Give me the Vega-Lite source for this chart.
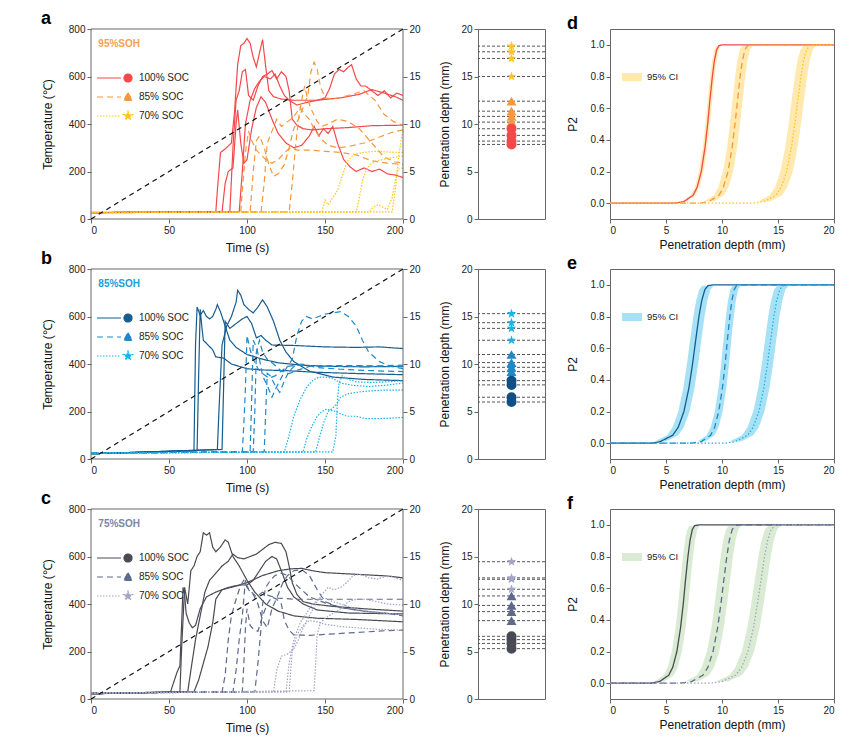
{
  "$schema": "https://vega.github.io/schema/vega-lite/v6.json",
  "padding": {"left": 41, "top": 10, "right": 5, "bottom": 5},
  "background": "white",
  "config": {
    "font": "Liberation Sans",
    "view": {"stroke": "#666", "strokeWidth": 1},
    "axis": {"grid": false, "domain": false, "labelFontSize": 10, "titleFontSize": 12, "titleFontWeight": "normal", "labelColor": "#222", "titleColor": "#111", "tickColor": "#666", "tickSize": 4, "labelPadding": 2, "labelOverlap": false},
    "legend": {"labelFontSize": 10, "labelColor": "#222"}
  },
  "datasets": {
    "temp": [
      {"g":"a","id":"a1","soc":"100% SOC","t":0,"v":28},{"g":"a","id":"a1","soc":"100% SOC","t":80,"v":30},{"g":"a","id":"a1","soc":"100% SOC","t":81,"v":120},{"g":"a","id":"a1","soc":"100% SOC","t":83,"v":280},{"g":"a","id":"a1","soc":"100% SOC","t":86,"v":295},{"g":"a","id":"a1","soc":"100% SOC","t":90,"v":320},{"g":"a","id":"a1","soc":"100% SOC","t":92,"v":450},{"g":"a","id":"a1","soc":"100% SOC","t":94,"v":650},{"g":"a","id":"a1","soc":"100% SOC","t":96,"v":730},{"g":"a","id":"a1","soc":"100% SOC","t":98,"v":740},{"g":"a","id":"a1","soc":"100% SOC","t":100,"v":760},{"g":"a","id":"a1","soc":"100% SOC","t":102,"v":740},{"g":"a","id":"a1","soc":"100% SOC","t":104,"v":680},{"g":"a","id":"a1","soc":"100% SOC","t":106,"v":640},{"g":"a","id":"a1","soc":"100% SOC","t":108,"v":700},{"g":"a","id":"a1","soc":"100% SOC","t":110,"v":755},{"g":"a","id":"a1","soc":"100% SOC","t":112,"v":640},{"g":"a","id":"a1","soc":"100% SOC","t":114,"v":540},{"g":"a","id":"a1","soc":"100% SOC","t":117,"v":515},{"g":"a","id":"a1","soc":"100% SOC","t":122,"v":505},{"g":"a","id":"a1","soc":"100% SOC","t":130,"v":500},{"g":"a","id":"a1","soc":"100% SOC","t":145,"v":500},{"g":"a","id":"a1","soc":"100% SOC","t":160,"v":510},{"g":"a","id":"a1","soc":"100% SOC","t":172,"v":525},{"g":"a","id":"a1","soc":"100% SOC","t":180,"v":545},{"g":"a","id":"a1","soc":"100% SOC","t":188,"v":530},{"g":"a","id":"a1","soc":"100% SOC","t":195,"v":515},{"g":"a","id":"a1","soc":"100% SOC","t":200,"v":500},
      {"g":"a","id":"a2","soc":"100% SOC","t":0,"v":27},{"g":"a","id":"a2","soc":"100% SOC","t":84,"v":30},{"g":"a","id":"a2","soc":"100% SOC","t":86,"v":150},{"g":"a","id":"a2","soc":"100% SOC","t":88,"v":200},{"g":"a","id":"a2","soc":"100% SOC","t":91,"v":215},{"g":"a","id":"a2","soc":"100% SOC","t":93,"v":400},{"g":"a","id":"a2","soc":"100% SOC","t":94,"v":460},{"g":"a","id":"a2","soc":"100% SOC","t":96,"v":320},{"g":"a","id":"a2","soc":"100% SOC","t":98,"v":235},{"g":"a","id":"a2","soc":"100% SOC","t":100,"v":250},{"g":"a","id":"a2","soc":"100% SOC","t":103,"v":380},{"g":"a","id":"a2","soc":"100% SOC","t":106,"v":470},{"g":"a","id":"a2","soc":"100% SOC","t":109,"v":515},{"g":"a","id":"a2","soc":"100% SOC","t":112,"v":490},{"g":"a","id":"a2","soc":"100% SOC","t":116,"v":420},{"g":"a","id":"a2","soc":"100% SOC","t":120,"v":360},{"g":"a","id":"a2","soc":"100% SOC","t":125,"v":320},{"g":"a","id":"a2","soc":"100% SOC","t":130,"v":300},{"g":"a","id":"a2","soc":"100% SOC","t":135,"v":310},{"g":"a","id":"a2","soc":"100% SOC","t":140,"v":350},{"g":"a","id":"a2","soc":"100% SOC","t":143,"v":390},{"g":"a","id":"a2","soc":"100% SOC","t":146,"v":350},{"g":"a","id":"a2","soc":"100% SOC","t":149,"v":380},{"g":"a","id":"a2","soc":"100% SOC","t":152,"v":360},{"g":"a","id":"a2","soc":"100% SOC","t":155,"v":390},{"g":"a","id":"a2","soc":"100% SOC","t":158,"v":320},{"g":"a","id":"a2","soc":"100% SOC","t":162,"v":250},{"g":"a","id":"a2","soc":"100% SOC","t":166,"v":220},{"g":"a","id":"a2","soc":"100% SOC","t":170,"v":200},{"g":"a","id":"a2","soc":"100% SOC","t":175,"v":215},{"g":"a","id":"a2","soc":"100% SOC","t":180,"v":200},{"g":"a","id":"a2","soc":"100% SOC","t":185,"v":210},{"g":"a","id":"a2","soc":"100% SOC","t":190,"v":190},{"g":"a","id":"a2","soc":"100% SOC","t":195,"v":185},{"g":"a","id":"a2","soc":"100% SOC","t":200,"v":175},
      {"g":"a","id":"a3","soc":"100% SOC","t":0,"v":26},{"g":"a","id":"a3","soc":"100% SOC","t":89,"v":30},{"g":"a","id":"a3","soc":"100% SOC","t":91,"v":300},{"g":"a","id":"a3","soc":"100% SOC","t":93,"v":500},{"g":"a","id":"a3","soc":"100% SOC","t":95,"v":540},{"g":"a","id":"a3","soc":"100% SOC","t":97,"v":620},{"g":"a","id":"a3","soc":"100% SOC","t":99,"v":630},{"g":"a","id":"a3","soc":"100% SOC","t":101,"v":520},{"g":"a","id":"a3","soc":"100% SOC","t":104,"v":500},{"g":"a","id":"a3","soc":"100% SOC","t":107,"v":560},{"g":"a","id":"a3","soc":"100% SOC","t":110,"v":600},{"g":"a","id":"a3","soc":"100% SOC","t":113,"v":610},{"g":"a","id":"a3","soc":"100% SOC","t":116,"v":625},{"g":"a","id":"a3","soc":"100% SOC","t":119,"v":590},{"g":"a","id":"a3","soc":"100% SOC","t":122,"v":620},{"g":"a","id":"a3","soc":"100% SOC","t":125,"v":600},{"g":"a","id":"a3","soc":"100% SOC","t":127,"v":540},{"g":"a","id":"a3","soc":"100% SOC","t":129,"v":420},{"g":"a","id":"a3","soc":"100% SOC","t":132,"v":395},{"g":"a","id":"a3","soc":"100% SOC","t":136,"v":380},{"g":"a","id":"a3","soc":"100% SOC","t":142,"v":375},{"g":"a","id":"a3","soc":"100% SOC","t":150,"v":380},{"g":"a","id":"a3","soc":"100% SOC","t":165,"v":385},{"g":"a","id":"a3","soc":"100% SOC","t":180,"v":393},{"g":"a","id":"a3","soc":"100% SOC","t":200,"v":395},
      {"g":"a","id":"a4","soc":"100% SOC","t":0,"v":27},{"g":"a","id":"a4","soc":"100% SOC","t":95,"v":30},{"g":"a","id":"a4","soc":"100% SOC","t":97,"v":200},{"g":"a","id":"a4","soc":"100% SOC","t":99,"v":400},{"g":"a","id":"a4","soc":"100% SOC","t":102,"v":500},{"g":"a","id":"a4","soc":"100% SOC","t":105,"v":550},{"g":"a","id":"a4","soc":"100% SOC","t":108,"v":580},{"g":"a","id":"a4","soc":"100% SOC","t":111,"v":600},{"g":"a","id":"a4","soc":"100% SOC","t":115,"v":590},{"g":"a","id":"a4","soc":"100% SOC","t":118,"v":610},{"g":"a","id":"a4","soc":"100% SOC","t":121,"v":560},{"g":"a","id":"a4","soc":"100% SOC","t":124,"v":520},{"g":"a","id":"a4","soc":"100% SOC","t":127,"v":500},{"g":"a","id":"a4","soc":"100% SOC","t":132,"v":480},{"g":"a","id":"a4","soc":"100% SOC","t":138,"v":490},{"g":"a","id":"a4","soc":"100% SOC","t":145,"v":500},{"g":"a","id":"a4","soc":"100% SOC","t":150,"v":510},{"g":"a","id":"a4","soc":"100% SOC","t":153,"v":550},{"g":"a","id":"a4","soc":"100% SOC","t":156,"v":610},{"g":"a","id":"a4","soc":"100% SOC","t":159,"v":630},{"g":"a","id":"a4","soc":"100% SOC","t":162,"v":620},{"g":"a","id":"a4","soc":"100% SOC","t":165,"v":640},{"g":"a","id":"a4","soc":"100% SOC","t":167,"v":650},{"g":"a","id":"a4","soc":"100% SOC","t":170,"v":590},{"g":"a","id":"a4","soc":"100% SOC","t":173,"v":560},{"g":"a","id":"a4","soc":"100% SOC","t":176,"v":560},{"g":"a","id":"a4","soc":"100% SOC","t":180,"v":540},{"g":"a","id":"a4","soc":"100% SOC","t":184,"v":520},{"g":"a","id":"a4","soc":"100% SOC","t":188,"v":540},{"g":"a","id":"a4","soc":"100% SOC","t":192,"v":510},{"g":"a","id":"a4","soc":"100% SOC","t":196,"v":530},{"g":"a","id":"a4","soc":"100% SOC","t":200,"v":520},
      {"g":"a","id":"a5","soc":"85% SOC","t":0,"v":27},{"g":"a","id":"a5","soc":"85% SOC","t":96,"v":30},{"g":"a","id":"a5","soc":"85% SOC","t":97,"v":120},{"g":"a","id":"a5","soc":"85% SOC","t":99,"v":280},{"g":"a","id":"a5","soc":"85% SOC","t":101,"v":370},{"g":"a","id":"a5","soc":"85% SOC","t":103,"v":330},{"g":"a","id":"a5","soc":"85% SOC","t":106,"v":290},{"g":"a","id":"a5","soc":"85% SOC","t":109,"v":270},{"g":"a","id":"a5","soc":"85% SOC","t":112,"v":250},{"g":"a","id":"a5","soc":"85% SOC","t":116,"v":235},{"g":"a","id":"a5","soc":"85% SOC","t":120,"v":250},{"g":"a","id":"a5","soc":"85% SOC","t":124,"v":280},{"g":"a","id":"a5","soc":"85% SOC","t":128,"v":300},{"g":"a","id":"a5","soc":"85% SOC","t":132,"v":290},{"g":"a","id":"a5","soc":"85% SOC","t":140,"v":290},{"g":"a","id":"a5","soc":"85% SOC","t":150,"v":285},{"g":"a","id":"a5","soc":"85% SOC","t":160,"v":280},{"g":"a","id":"a5","soc":"85% SOC","t":170,"v":270},{"g":"a","id":"a5","soc":"85% SOC","t":180,"v":245},{"g":"a","id":"a5","soc":"85% SOC","t":190,"v":235},{"g":"a","id":"a5","soc":"85% SOC","t":200,"v":230},
      {"g":"a","id":"a6","soc":"85% SOC","t":0,"v":27},{"g":"a","id":"a6","soc":"85% SOC","t":102,"v":30},{"g":"a","id":"a6","soc":"85% SOC","t":104,"v":200},{"g":"a","id":"a6","soc":"85% SOC","t":106,"v":330},{"g":"a","id":"a6","soc":"85% SOC","t":108,"v":350},{"g":"a","id":"a6","soc":"85% SOC","t":111,"v":300},{"g":"a","id":"a6","soc":"85% SOC","t":114,"v":230},{"g":"a","id":"a6","soc":"85% SOC","t":117,"v":180},{"g":"a","id":"a6","soc":"85% SOC","t":120,"v":190},{"g":"a","id":"a6","soc":"85% SOC","t":124,"v":230},{"g":"a","id":"a6","soc":"85% SOC","t":127,"v":300},{"g":"a","id":"a6","soc":"85% SOC","t":130,"v":380},{"g":"a","id":"a6","soc":"85% SOC","t":133,"v":420},{"g":"a","id":"a6","soc":"85% SOC","t":136,"v":470},{"g":"a","id":"a6","soc":"85% SOC","t":139,"v":520},{"g":"a","id":"a6","soc":"85% SOC","t":141,"v":620},{"g":"a","id":"a6","soc":"85% SOC","t":143,"v":660},{"g":"a","id":"a6","soc":"85% SOC","t":145,"v":630},{"g":"a","id":"a6","soc":"85% SOC","t":147,"v":560},{"g":"a","id":"a6","soc":"85% SOC","t":150,"v":510},{"g":"a","id":"a6","soc":"85% SOC","t":155,"v":505},{"g":"a","id":"a6","soc":"85% SOC","t":165,"v":520},{"g":"a","id":"a6","soc":"85% SOC","t":175,"v":540},{"g":"a","id":"a6","soc":"85% SOC","t":182,"v":500},{"g":"a","id":"a6","soc":"85% SOC","t":188,"v":440},{"g":"a","id":"a6","soc":"85% SOC","t":194,"v":410},{"g":"a","id":"a6","soc":"85% SOC","t":200,"v":395},
      {"g":"a","id":"a7","soc":"85% SOC","t":0,"v":27},{"g":"a","id":"a7","soc":"85% SOC","t":109,"v":30},{"g":"a","id":"a7","soc":"85% SOC","t":111,"v":150},{"g":"a","id":"a7","soc":"85% SOC","t":113,"v":320},{"g":"a","id":"a7","soc":"85% SOC","t":116,"v":370},{"g":"a","id":"a7","soc":"85% SOC","t":119,"v":420},{"g":"a","id":"a7","soc":"85% SOC","t":122,"v":390},{"g":"a","id":"a7","soc":"85% SOC","t":126,"v":410},{"g":"a","id":"a7","soc":"85% SOC","t":130,"v":430},{"g":"a","id":"a7","soc":"85% SOC","t":134,"v":470},{"g":"a","id":"a7","soc":"85% SOC","t":137,"v":440},{"g":"a","id":"a7","soc":"85% SOC","t":140,"v":420},{"g":"a","id":"a7","soc":"85% SOC","t":143,"v":380},{"g":"a","id":"a7","soc":"85% SOC","t":147,"v":340},{"g":"a","id":"a7","soc":"85% SOC","t":152,"v":310},{"g":"a","id":"a7","soc":"85% SOC","t":158,"v":300},{"g":"a","id":"a7","soc":"85% SOC","t":165,"v":305},{"g":"a","id":"a7","soc":"85% SOC","t":175,"v":320},{"g":"a","id":"a7","soc":"85% SOC","t":185,"v":345},{"g":"a","id":"a7","soc":"85% SOC","t":193,"v":365},{"g":"a","id":"a7","soc":"85% SOC","t":200,"v":375},
      {"g":"a","id":"a8","soc":"85% SOC","t":0,"v":27},{"g":"a","id":"a8","soc":"85% SOC","t":127,"v":30},{"g":"a","id":"a8","soc":"85% SOC","t":129,"v":150},{"g":"a","id":"a8","soc":"85% SOC","t":131,"v":300},{"g":"a","id":"a8","soc":"85% SOC","t":133,"v":420},{"g":"a","id":"a8","soc":"85% SOC","t":135,"v":500},{"g":"a","id":"a8","soc":"85% SOC","t":137,"v":560},{"g":"a","id":"a8","soc":"85% SOC","t":139,"v":500},{"g":"a","id":"a8","soc":"85% SOC","t":142,"v":450},{"g":"a","id":"a8","soc":"85% SOC","t":145,"v":410},{"g":"a","id":"a8","soc":"85% SOC","t":148,"v":390},{"g":"a","id":"a8","soc":"85% SOC","t":152,"v":400},{"g":"a","id":"a8","soc":"85% SOC","t":158,"v":420},{"g":"a","id":"a8","soc":"85% SOC","t":165,"v":410},{"g":"a","id":"a8","soc":"85% SOC","t":172,"v":380},{"g":"a","id":"a8","soc":"85% SOC","t":180,"v":320},{"g":"a","id":"a8","soc":"85% SOC","t":188,"v":260},{"g":"a","id":"a8","soc":"85% SOC","t":195,"v":240},{"g":"a","id":"a8","soc":"85% SOC","t":200,"v":235},
      {"g":"a","id":"a9","soc":"70% SOC","t":0,"v":27},{"g":"a","id":"a9","soc":"70% SOC","t":148,"v":30},{"g":"a","id":"a9","soc":"70% SOC","t":150,"v":80},{"g":"a","id":"a9","soc":"70% SOC","t":152,"v":60},{"g":"a","id":"a9","soc":"70% SOC","t":155,"v":90},{"g":"a","id":"a9","soc":"70% SOC","t":158,"v":120},{"g":"a","id":"a9","soc":"70% SOC","t":161,"v":180},{"g":"a","id":"a9","soc":"70% SOC","t":164,"v":240},{"g":"a","id":"a9","soc":"70% SOC","t":168,"v":270},{"g":"a","id":"a9","soc":"70% SOC","t":174,"v":280},{"g":"a","id":"a9","soc":"70% SOC","t":182,"v":285},{"g":"a","id":"a9","soc":"70% SOC","t":190,"v":282},{"g":"a","id":"a9","soc":"70% SOC","t":200,"v":280},
      {"g":"a","id":"a10","soc":"70% SOC","t":0,"v":27},{"g":"a","id":"a10","soc":"70% SOC","t":170,"v":30},{"g":"a","id":"a10","soc":"70% SOC","t":172,"v":90},{"g":"a","id":"a10","soc":"70% SOC","t":174,"v":160},{"g":"a","id":"a10","soc":"70% SOC","t":176,"v":200},{"g":"a","id":"a10","soc":"70% SOC","t":179,"v":230},{"g":"a","id":"a10","soc":"70% SOC","t":183,"v":245},{"g":"a","id":"a10","soc":"70% SOC","t":190,"v":255},{"g":"a","id":"a10","soc":"70% SOC","t":200,"v":265},
      {"g":"a","id":"a11","soc":"70% SOC","t":0,"v":27},{"g":"a","id":"a11","soc":"70% SOC","t":178,"v":30},{"g":"a","id":"a11","soc":"70% SOC","t":181,"v":50},{"g":"a","id":"a11","soc":"70% SOC","t":184,"v":60},{"g":"a","id":"a11","soc":"70% SOC","t":187,"v":50},{"g":"a","id":"a11","soc":"70% SOC","t":190,"v":40},{"g":"a","id":"a11","soc":"70% SOC","t":193,"v":90},{"g":"a","id":"a11","soc":"70% SOC","t":195,"v":160},{"g":"a","id":"a11","soc":"70% SOC","t":197,"v":210},{"g":"a","id":"a11","soc":"70% SOC","t":200,"v":215},
      {"g":"a","id":"a12","soc":"70% SOC","t":0,"v":27},{"g":"a","id":"a12","soc":"70% SOC","t":193,"v":30},{"g":"a","id":"a12","soc":"70% SOC","t":195,"v":120},{"g":"a","id":"a12","soc":"70% SOC","t":197,"v":250},{"g":"a","id":"a12","soc":"70% SOC","t":199,"v":340},{"g":"a","id":"a12","soc":"70% SOC","t":200,"v":370},
      {"g":"b","id":"b1","soc":"100% SOC","t":0,"v":22},{"g":"b","id":"b1","soc":"100% SOC","t":66,"v":35},{"g":"b","id":"b1","soc":"100% SOC","t":67,"v":480},{"g":"b","id":"b1","soc":"100% SOC","t":68,"v":640},{"g":"b","id":"b1","soc":"100% SOC","t":70,"v":605},{"g":"b","id":"b1","soc":"100% SOC","t":72,"v":625},{"g":"b","id":"b1","soc":"100% SOC","t":74,"v":600},{"g":"b","id":"b1","soc":"100% SOC","t":76,"v":590},{"g":"b","id":"b1","soc":"100% SOC","t":78,"v":600},{"g":"b","id":"b1","soc":"100% SOC","t":80,"v":630},{"g":"b","id":"b1","soc":"100% SOC","t":81,"v":650},{"g":"b","id":"b1","soc":"100% SOC","t":83,"v":620},{"g":"b","id":"b1","soc":"100% SOC","t":86,"v":560},{"g":"b","id":"b1","soc":"100% SOC","t":89,"v":500},{"g":"b","id":"b1","soc":"100% SOC","t":93,"v":470},{"g":"b","id":"b1","soc":"100% SOC","t":100,"v":440},{"g":"b","id":"b1","soc":"100% SOC","t":110,"v":420},{"g":"b","id":"b1","soc":"100% SOC","t":120,"v":405},{"g":"b","id":"b1","soc":"100% SOC","t":135,"v":395},{"g":"b","id":"b1","soc":"100% SOC","t":155,"v":390},{"g":"b","id":"b1","soc":"100% SOC","t":175,"v":388},{"g":"b","id":"b1","soc":"100% SOC","t":200,"v":390},
      {"g":"b","id":"b2","soc":"100% SOC","t":0,"v":22},{"g":"b","id":"b2","soc":"100% SOC","t":68,"v":35},{"g":"b","id":"b2","soc":"100% SOC","t":69,"v":350},{"g":"b","id":"b2","soc":"100% SOC","t":70,"v":630},{"g":"b","id":"b2","soc":"100% SOC","t":71,"v":560},{"g":"b","id":"b2","soc":"100% SOC","t":72,"v":500},{"g":"b","id":"b2","soc":"100% SOC","t":75,"v":480},{"g":"b","id":"b2","soc":"100% SOC","t":78,"v":460},{"g":"b","id":"b2","soc":"100% SOC","t":80,"v":430},{"g":"b","id":"b2","soc":"100% SOC","t":85,"v":425},{"g":"b","id":"b2","soc":"100% SOC","t":90,"v":400},{"g":"b","id":"b2","soc":"100% SOC","t":100,"v":380},{"g":"b","id":"b2","soc":"100% SOC","t":110,"v":375},{"g":"b","id":"b2","soc":"100% SOC","t":125,"v":372},{"g":"b","id":"b2","soc":"100% SOC","t":145,"v":365},{"g":"b","id":"b2","soc":"100% SOC","t":170,"v":360},{"g":"b","id":"b2","soc":"100% SOC","t":200,"v":355},
      {"g":"b","id":"b3","soc":"100% SOC","t":0,"v":22},{"g":"b","id":"b3","soc":"100% SOC","t":84,"v":40},{"g":"b","id":"b3","soc":"100% SOC","t":85,"v":300},{"g":"b","id":"b3","soc":"100% SOC","t":86,"v":580},{"g":"b","id":"b3","soc":"100% SOC","t":89,"v":550},{"g":"b","id":"b3","soc":"100% SOC","t":93,"v":570},{"g":"b","id":"b3","soc":"100% SOC","t":97,"v":590},{"g":"b","id":"b3","soc":"100% SOC","t":100,"v":600},{"g":"b","id":"b3","soc":"100% SOC","t":103,"v":570},{"g":"b","id":"b3","soc":"100% SOC","t":106,"v":510},{"g":"b","id":"b3","soc":"100% SOC","t":109,"v":520},{"g":"b","id":"b3","soc":"100% SOC","t":112,"v":500},{"g":"b","id":"b3","soc":"100% SOC","t":116,"v":480},{"g":"b","id":"b3","soc":"100% SOC","t":130,"v":478},{"g":"b","id":"b3","soc":"100% SOC","t":150,"v":472},{"g":"b","id":"b3","soc":"100% SOC","t":170,"v":470},{"g":"b","id":"b3","soc":"100% SOC","t":185,"v":472},{"g":"b","id":"b3","soc":"100% SOC","t":200,"v":465},
      {"g":"b","id":"b4","soc":"100% SOC","t":0,"v":22},{"g":"b","id":"b4","soc":"100% SOC","t":81,"v":40},{"g":"b","id":"b4","soc":"100% SOC","t":82,"v":200},{"g":"b","id":"b4","soc":"100% SOC","t":84,"v":480},{"g":"b","id":"b4","soc":"100% SOC","t":87,"v":560},{"g":"b","id":"b4","soc":"100% SOC","t":90,"v":600},{"g":"b","id":"b4","soc":"100% SOC","t":93,"v":660},{"g":"b","id":"b4","soc":"100% SOC","t":94,"v":710},{"g":"b","id":"b4","soc":"100% SOC","t":96,"v":690},{"g":"b","id":"b4","soc":"100% SOC","t":98,"v":650},{"g":"b","id":"b4","soc":"100% SOC","t":101,"v":630},{"g":"b","id":"b4","soc":"100% SOC","t":104,"v":615},{"g":"b","id":"b4","soc":"100% SOC","t":107,"v":640},{"g":"b","id":"b4","soc":"100% SOC","t":110,"v":670},{"g":"b","id":"b4","soc":"100% SOC","t":113,"v":640},{"g":"b","id":"b4","soc":"100% SOC","t":117,"v":580},{"g":"b","id":"b4","soc":"100% SOC","t":121,"v":500},{"g":"b","id":"b4","soc":"100% SOC","t":125,"v":450},{"g":"b","id":"b4","soc":"100% SOC","t":130,"v":410},{"g":"b","id":"b4","soc":"100% SOC","t":140,"v":370},{"g":"b","id":"b4","soc":"100% SOC","t":155,"v":345},{"g":"b","id":"b4","soc":"100% SOC","t":175,"v":335},{"g":"b","id":"b4","soc":"100% SOC","t":200,"v":330},
      {"g":"b","id":"b5","soc":"85% SOC","t":0,"v":25},{"g":"b","id":"b5","soc":"85% SOC","t":97,"v":30},{"g":"b","id":"b5","soc":"85% SOC","t":98,"v":150},{"g":"b","id":"b5","soc":"85% SOC","t":99,"v":300},{"g":"b","id":"b5","soc":"85% SOC","t":100,"v":520},{"g":"b","id":"b5","soc":"85% SOC","t":102,"v":460},{"g":"b","id":"b5","soc":"85% SOC","t":104,"v":420},{"g":"b","id":"b5","soc":"85% SOC","t":107,"v":380},{"g":"b","id":"b5","soc":"85% SOC","t":110,"v":360},{"g":"b","id":"b5","soc":"85% SOC","t":114,"v":340},{"g":"b","id":"b5","soc":"85% SOC","t":118,"v":350},{"g":"b","id":"b5","soc":"85% SOC","t":122,"v":370},{"g":"b","id":"b5","soc":"85% SOC","t":126,"v":390},{"g":"b","id":"b5","soc":"85% SOC","t":132,"v":395},{"g":"b","id":"b5","soc":"85% SOC","t":145,"v":390},{"g":"b","id":"b5","soc":"85% SOC","t":165,"v":390},{"g":"b","id":"b5","soc":"85% SOC","t":185,"v":392},{"g":"b","id":"b5","soc":"85% SOC","t":200,"v":395},
      {"g":"b","id":"b6","soc":"85% SOC","t":0,"v":25},{"g":"b","id":"b6","soc":"85% SOC","t":102,"v":30},{"g":"b","id":"b6","soc":"85% SOC","t":103,"v":250},{"g":"b","id":"b6","soc":"85% SOC","t":104,"v":500},{"g":"b","id":"b6","soc":"85% SOC","t":106,"v":470},{"g":"b","id":"b6","soc":"85% SOC","t":108,"v":420},{"g":"b","id":"b6","soc":"85% SOC","t":110,"v":350},{"g":"b","id":"b6","soc":"85% SOC","t":113,"v":310},{"g":"b","id":"b6","soc":"85% SOC","t":116,"v":260},{"g":"b","id":"b6","soc":"85% SOC","t":118,"v":290},{"g":"b","id":"b6","soc":"85% SOC","t":121,"v":330},{"g":"b","id":"b6","soc":"85% SOC","t":125,"v":380},{"g":"b","id":"b6","soc":"85% SOC","t":129,"v":420},{"g":"b","id":"b6","soc":"85% SOC","t":132,"v":520},{"g":"b","id":"b6","soc":"85% SOC","t":135,"v":580},{"g":"b","id":"b6","soc":"85% SOC","t":138,"v":600},{"g":"b","id":"b6","soc":"85% SOC","t":142,"v":590},{"g":"b","id":"b6","soc":"85% SOC","t":146,"v":600},{"g":"b","id":"b6","soc":"85% SOC","t":150,"v":610},{"g":"b","id":"b6","soc":"85% SOC","t":155,"v":615},{"g":"b","id":"b6","soc":"85% SOC","t":160,"v":620},{"g":"b","id":"b6","soc":"85% SOC","t":165,"v":600},{"g":"b","id":"b6","soc":"85% SOC","t":170,"v":560},{"g":"b","id":"b6","soc":"85% SOC","t":174,"v":500},{"g":"b","id":"b6","soc":"85% SOC","t":178,"v":450},{"g":"b","id":"b6","soc":"85% SOC","t":185,"v":410},{"g":"b","id":"b6","soc":"85% SOC","t":192,"v":390},{"g":"b","id":"b6","soc":"85% SOC","t":200,"v":380},
      {"g":"b","id":"b7","soc":"85% SOC","t":0,"v":25},{"g":"b","id":"b7","soc":"85% SOC","t":104,"v":30},{"g":"b","id":"b7","soc":"85% SOC","t":105,"v":200},{"g":"b","id":"b7","soc":"85% SOC","t":106,"v":450},{"g":"b","id":"b7","soc":"85% SOC","t":108,"v":500},{"g":"b","id":"b7","soc":"85% SOC","t":110,"v":450},{"g":"b","id":"b7","soc":"85% SOC","t":113,"v":420},{"g":"b","id":"b7","soc":"85% SOC","t":117,"v":400},{"g":"b","id":"b7","soc":"85% SOC","t":122,"v":370},{"g":"b","id":"b7","soc":"85% SOC","t":127,"v":360},{"g":"b","id":"b7","soc":"85% SOC","t":133,"v":375},{"g":"b","id":"b7","soc":"85% SOC","t":140,"v":390},{"g":"b","id":"b7","soc":"85% SOC","t":155,"v":393},{"g":"b","id":"b7","soc":"85% SOC","t":175,"v":393},{"g":"b","id":"b7","soc":"85% SOC","t":200,"v":388},
      {"g":"b","id":"b8","soc":"85% SOC","t":0,"v":25},{"g":"b","id":"b8","soc":"85% SOC","t":111,"v":30},{"g":"b","id":"b8","soc":"85% SOC","t":112,"v":200},{"g":"b","id":"b8","soc":"85% SOC","t":113,"v":360},{"g":"b","id":"b8","soc":"85% SOC","t":115,"v":350},{"g":"b","id":"b8","soc":"85% SOC","t":118,"v":310},{"g":"b","id":"b8","soc":"85% SOC","t":121,"v":280},{"g":"b","id":"b8","soc":"85% SOC","t":124,"v":330},{"g":"b","id":"b8","soc":"85% SOC","t":127,"v":370},{"g":"b","id":"b8","soc":"85% SOC","t":131,"v":395},{"g":"b","id":"b8","soc":"85% SOC","t":135,"v":400},{"g":"b","id":"b8","soc":"85% SOC","t":145,"v":385},{"g":"b","id":"b8","soc":"85% SOC","t":160,"v":378},{"g":"b","id":"b8","soc":"85% SOC","t":180,"v":372},{"g":"b","id":"b8","soc":"85% SOC","t":200,"v":368},
      {"g":"b","id":"b9","soc":"70% SOC","t":0,"v":25},{"g":"b","id":"b9","soc":"70% SOC","t":124,"v":30},{"g":"b","id":"b9","soc":"70% SOC","t":127,"v":100},{"g":"b","id":"b9","soc":"70% SOC","t":130,"v":180},{"g":"b","id":"b9","soc":"70% SOC","t":134,"v":250},{"g":"b","id":"b9","soc":"70% SOC","t":138,"v":300},{"g":"b","id":"b9","soc":"70% SOC","t":142,"v":330},{"g":"b","id":"b9","soc":"70% SOC","t":146,"v":345},{"g":"b","id":"b9","soc":"70% SOC","t":150,"v":345},{"g":"b","id":"b9","soc":"70% SOC","t":155,"v":340},{"g":"b","id":"b9","soc":"70% SOC","t":160,"v":320},{"g":"b","id":"b9","soc":"70% SOC","t":168,"v":310},{"g":"b","id":"b9","soc":"70% SOC","t":178,"v":305},{"g":"b","id":"b9","soc":"70% SOC","t":188,"v":310},{"g":"b","id":"b9","soc":"70% SOC","t":200,"v":320},
      {"g":"b","id":"b10","soc":"70% SOC","t":0,"v":25},{"g":"b","id":"b10","soc":"70% SOC","t":136,"v":30},{"g":"b","id":"b10","soc":"70% SOC","t":138,"v":80},{"g":"b","id":"b10","soc":"70% SOC","t":141,"v":130},{"g":"b","id":"b10","soc":"70% SOC","t":145,"v":180},{"g":"b","id":"b10","soc":"70% SOC","t":148,"v":200},{"g":"b","id":"b10","soc":"70% SOC","t":151,"v":210},{"g":"b","id":"b10","soc":"70% SOC","t":154,"v":205},{"g":"b","id":"b10","soc":"70% SOC","t":157,"v":200},{"g":"b","id":"b10","soc":"70% SOC","t":160,"v":190},{"g":"b","id":"b10","soc":"70% SOC","t":164,"v":180},{"g":"b","id":"b10","soc":"70% SOC","t":170,"v":180},{"g":"b","id":"b10","soc":"70% SOC","t":176,"v":170},{"g":"b","id":"b10","soc":"70% SOC","t":185,"v":170},{"g":"b","id":"b10","soc":"70% SOC","t":200,"v":175},
      {"g":"b","id":"b11","soc":"70% SOC","t":0,"v":25},{"g":"b","id":"b11","soc":"70% SOC","t":144,"v":30},{"g":"b","id":"b11","soc":"70% SOC","t":146,"v":80},{"g":"b","id":"b11","soc":"70% SOC","t":149,"v":150},{"g":"b","id":"b11","soc":"70% SOC","t":152,"v":200},{"g":"b","id":"b11","soc":"70% SOC","t":155,"v":215},{"g":"b","id":"b11","soc":"70% SOC","t":158,"v":235},{"g":"b","id":"b11","soc":"70% SOC","t":160,"v":260},{"g":"b","id":"b11","soc":"70% SOC","t":165,"v":275},{"g":"b","id":"b11","soc":"70% SOC","t":175,"v":285},{"g":"b","id":"b11","soc":"70% SOC","t":188,"v":290},{"g":"b","id":"b11","soc":"70% SOC","t":200,"v":290},
      {"g":"b","id":"b12","soc":"70% SOC","t":0,"v":25},{"g":"b","id":"b12","soc":"70% SOC","t":155,"v":30},{"g":"b","id":"b12","soc":"70% SOC","t":157,"v":100},{"g":"b","id":"b12","soc":"70% SOC","t":158,"v":250},{"g":"b","id":"b12","soc":"70% SOC","t":159,"v":320},{"g":"b","id":"b12","soc":"70% SOC","t":161,"v":350},{"g":"b","id":"b12","soc":"70% SOC","t":165,"v":335},{"g":"b","id":"b12","soc":"70% SOC","t":170,"v":325},{"g":"b","id":"b12","soc":"70% SOC","t":180,"v":322},{"g":"b","id":"b12","soc":"70% SOC","t":190,"v":325},{"g":"b","id":"b12","soc":"70% SOC","t":200,"v":330},
      {"g":"c","id":"c1","soc":"100% SOC","t":0,"v":22},{"g":"c","id":"c1","soc":"100% SOC","t":51,"v":30},{"g":"c","id":"c1","soc":"100% SOC","t":53,"v":70},{"g":"c","id":"c1","soc":"100% SOC","t":55,"v":110},{"g":"c","id":"c1","soc":"100% SOC","t":57,"v":140},{"g":"c","id":"c1","soc":"100% SOC","t":58,"v":300},{"g":"c","id":"c1","soc":"100% SOC","t":59,"v":470},{"g":"c","id":"c1","soc":"100% SOC","t":60,"v":440},{"g":"c","id":"c1","soc":"100% SOC","t":61,"v":360},{"g":"c","id":"c1","soc":"100% SOC","t":63,"v":320},{"g":"c","id":"c1","soc":"100% SOC","t":65,"v":300},{"g":"c","id":"c1","soc":"100% SOC","t":67,"v":310},{"g":"c","id":"c1","soc":"100% SOC","t":70,"v":380},{"g":"c","id":"c1","soc":"100% SOC","t":74,"v":430},{"g":"c","id":"c1","soc":"100% SOC","t":80,"v":450},{"g":"c","id":"c1","soc":"100% SOC","t":88,"v":470},{"g":"c","id":"c1","soc":"100% SOC","t":95,"v":480},{"g":"c","id":"c1","soc":"100% SOC","t":100,"v":490},{"g":"c","id":"c1","soc":"100% SOC","t":110,"v":520},{"g":"c","id":"c1","soc":"100% SOC","t":120,"v":540},{"g":"c","id":"c1","soc":"100% SOC","t":128,"v":548},{"g":"c","id":"c1","soc":"100% SOC","t":135,"v":550},{"g":"c","id":"c1","soc":"100% SOC","t":142,"v":540},{"g":"c","id":"c1","soc":"100% SOC","t":150,"v":532},{"g":"c","id":"c1","soc":"100% SOC","t":170,"v":525},{"g":"c","id":"c1","soc":"100% SOC","t":190,"v":518},{"g":"c","id":"c1","soc":"100% SOC","t":200,"v":510},
      {"g":"c","id":"c2","soc":"100% SOC","t":0,"v":22},{"g":"c","id":"c2","soc":"100% SOC","t":57,"v":30},{"g":"c","id":"c2","soc":"100% SOC","t":58,"v":200},{"g":"c","id":"c2","soc":"100% SOC","t":60,"v":470},{"g":"c","id":"c2","soc":"100% SOC","t":62,"v":400},{"g":"c","id":"c2","soc":"100% SOC","t":64,"v":540},{"g":"c","id":"c2","soc":"100% SOC","t":66,"v":560},{"g":"c","id":"c2","soc":"100% SOC","t":68,"v":600},{"g":"c","id":"c2","soc":"100% SOC","t":70,"v":620},{"g":"c","id":"c2","soc":"100% SOC","t":72,"v":700},{"g":"c","id":"c2","soc":"100% SOC","t":74,"v":690},{"g":"c","id":"c2","soc":"100% SOC","t":76,"v":700},{"g":"c","id":"c2","soc":"100% SOC","t":78,"v":640},{"g":"c","id":"c2","soc":"100% SOC","t":80,"v":620},{"g":"c","id":"c2","soc":"100% SOC","t":83,"v":640},{"g":"c","id":"c2","soc":"100% SOC","t":86,"v":670},{"g":"c","id":"c2","soc":"100% SOC","t":88,"v":660},{"g":"c","id":"c2","soc":"100% SOC","t":91,"v":600},{"g":"c","id":"c2","soc":"100% SOC","t":95,"v":560},{"g":"c","id":"c2","soc":"100% SOC","t":100,"v":500},{"g":"c","id":"c2","soc":"100% SOC","t":105,"v":450},{"g":"c","id":"c2","soc":"100% SOC","t":112,"v":400},{"g":"c","id":"c2","soc":"100% SOC","t":120,"v":370},{"g":"c","id":"c2","soc":"100% SOC","t":130,"v":350},{"g":"c","id":"c2","soc":"100% SOC","t":145,"v":340},{"g":"c","id":"c2","soc":"100% SOC","t":170,"v":335},{"g":"c","id":"c2","soc":"100% SOC","t":200,"v":325},
      {"g":"c","id":"c3","soc":"100% SOC","t":0,"v":22},{"g":"c","id":"c3","soc":"100% SOC","t":62,"v":30},{"g":"c","id":"c3","soc":"100% SOC","t":64,"v":120},{"g":"c","id":"c3","soc":"100% SOC","t":67,"v":250},{"g":"c","id":"c3","soc":"100% SOC","t":70,"v":350},{"g":"c","id":"c3","soc":"100% SOC","t":73,"v":450},{"g":"c","id":"c3","soc":"100% SOC","t":76,"v":500},{"g":"c","id":"c3","soc":"100% SOC","t":80,"v":530},{"g":"c","id":"c3","soc":"100% SOC","t":84,"v":560},{"g":"c","id":"c3","soc":"100% SOC","t":88,"v":580},{"g":"c","id":"c3","soc":"100% SOC","t":91,"v":610},{"g":"c","id":"c3","soc":"100% SOC","t":94,"v":595},{"g":"c","id":"c3","soc":"100% SOC","t":98,"v":590},{"g":"c","id":"c3","soc":"100% SOC","t":102,"v":600},{"g":"c","id":"c3","soc":"100% SOC","t":106,"v":610},{"g":"c","id":"c3","soc":"100% SOC","t":110,"v":630},{"g":"c","id":"c3","soc":"100% SOC","t":114,"v":650},{"g":"c","id":"c3","soc":"100% SOC","t":118,"v":660},{"g":"c","id":"c3","soc":"100% SOC","t":122,"v":655},{"g":"c","id":"c3","soc":"100% SOC","t":125,"v":620},{"g":"c","id":"c3","soc":"100% SOC","t":127,"v":560},{"g":"c","id":"c3","soc":"100% SOC","t":129,"v":490},{"g":"c","id":"c3","soc":"100% SOC","t":132,"v":440},{"g":"c","id":"c3","soc":"100% SOC","t":136,"v":410},{"g":"c","id":"c3","soc":"100% SOC","t":142,"v":400},{"g":"c","id":"c3","soc":"100% SOC","t":155,"v":390},{"g":"c","id":"c3","soc":"100% SOC","t":175,"v":380},{"g":"c","id":"c3","soc":"100% SOC","t":200,"v":370},
      {"g":"c","id":"c4","soc":"100% SOC","t":0,"v":22},{"g":"c","id":"c4","soc":"100% SOC","t":66,"v":30},{"g":"c","id":"c4","soc":"100% SOC","t":69,"v":80},{"g":"c","id":"c4","soc":"100% SOC","t":72,"v":150},{"g":"c","id":"c4","soc":"100% SOC","t":75,"v":220},{"g":"c","id":"c4","soc":"100% SOC","t":78,"v":320},{"g":"c","id":"c4","soc":"100% SOC","t":80,"v":420},{"g":"c","id":"c4","soc":"100% SOC","t":84,"v":460},{"g":"c","id":"c4","soc":"100% SOC","t":90,"v":470},{"g":"c","id":"c4","soc":"100% SOC","t":96,"v":480},{"g":"c","id":"c4","soc":"100% SOC","t":100,"v":480},{"g":"c","id":"c4","soc":"100% SOC","t":104,"v":500},{"g":"c","id":"c4","soc":"100% SOC","t":108,"v":540},{"g":"c","id":"c4","soc":"100% SOC","t":112,"v":580},{"g":"c","id":"c4","soc":"100% SOC","t":116,"v":600},{"g":"c","id":"c4","soc":"100% SOC","t":119,"v":590},{"g":"c","id":"c4","soc":"100% SOC","t":122,"v":540},{"g":"c","id":"c4","soc":"100% SOC","t":126,"v":470},{"g":"c","id":"c4","soc":"100% SOC","t":130,"v":430},{"g":"c","id":"c4","soc":"100% SOC","t":136,"v":400},{"g":"c","id":"c4","soc":"100% SOC","t":145,"v":375},{"g":"c","id":"c4","soc":"100% SOC","t":165,"v":362},{"g":"c","id":"c4","soc":"100% SOC","t":200,"v":358},
      {"g":"c","id":"c5","soc":"85% SOC","t":0,"v":25},{"g":"c","id":"c5","soc":"85% SOC","t":84,"v":30},{"g":"c","id":"c5","soc":"85% SOC","t":86,"v":100},{"g":"c","id":"c5","soc":"85% SOC","t":88,"v":250},{"g":"c","id":"c5","soc":"85% SOC","t":90,"v":350},{"g":"c","id":"c5","soc":"85% SOC","t":93,"v":420},{"g":"c","id":"c5","soc":"85% SOC","t":96,"v":480},{"g":"c","id":"c5","soc":"85% SOC","t":98,"v":500},{"g":"c","id":"c5","soc":"85% SOC","t":100,"v":470},{"g":"c","id":"c5","soc":"85% SOC","t":103,"v":450},{"g":"c","id":"c5","soc":"85% SOC","t":106,"v":430},{"g":"c","id":"c5","soc":"85% SOC","t":110,"v":450},{"g":"c","id":"c5","soc":"85% SOC","t":114,"v":435},{"g":"c","id":"c5","soc":"85% SOC","t":120,"v":425},{"g":"c","id":"c5","soc":"85% SOC","t":130,"v":420},{"g":"c","id":"c5","soc":"85% SOC","t":150,"v":420},{"g":"c","id":"c5","soc":"85% SOC","t":175,"v":420},{"g":"c","id":"c5","soc":"85% SOC","t":200,"v":420},
      {"g":"c","id":"c6","soc":"85% SOC","t":0,"v":25},{"g":"c","id":"c6","soc":"85% SOC","t":91,"v":30},{"g":"c","id":"c6","soc":"85% SOC","t":93,"v":120},{"g":"c","id":"c6","soc":"85% SOC","t":95,"v":250},{"g":"c","id":"c6","soc":"85% SOC","t":97,"v":350},{"g":"c","id":"c6","soc":"85% SOC","t":99,"v":500},{"g":"c","id":"c6","soc":"85% SOC","t":101,"v":460},{"g":"c","id":"c6","soc":"85% SOC","t":104,"v":440},{"g":"c","id":"c6","soc":"85% SOC","t":107,"v":400},{"g":"c","id":"c6","soc":"85% SOC","t":110,"v":330},{"g":"c","id":"c6","soc":"85% SOC","t":113,"v":300},{"g":"c","id":"c6","soc":"85% SOC","t":116,"v":380},{"g":"c","id":"c6","soc":"85% SOC","t":120,"v":440},{"g":"c","id":"c6","soc":"85% SOC","t":123,"v":490},{"g":"c","id":"c6","soc":"85% SOC","t":126,"v":520},{"g":"c","id":"c6","soc":"85% SOC","t":130,"v":540},{"g":"c","id":"c6","soc":"85% SOC","t":135,"v":545},{"g":"c","id":"c6","soc":"85% SOC","t":140,"v":520},{"g":"c","id":"c6","soc":"85% SOC","t":145,"v":460},{"g":"c","id":"c6","soc":"85% SOC","t":150,"v":410},{"g":"c","id":"c6","soc":"85% SOC","t":160,"v":385},{"g":"c","id":"c6","soc":"85% SOC","t":175,"v":370},{"g":"c","id":"c6","soc":"85% SOC","t":200,"v":355},
      {"g":"c","id":"c7","soc":"85% SOC","t":0,"v":25},{"g":"c","id":"c7","soc":"85% SOC","t":97,"v":30},{"g":"c","id":"c7","soc":"85% SOC","t":98,"v":150},{"g":"c","id":"c7","soc":"85% SOC","t":99,"v":300},{"g":"c","id":"c7","soc":"85% SOC","t":100,"v":380},{"g":"c","id":"c7","soc":"85% SOC","t":102,"v":310},{"g":"c","id":"c7","soc":"85% SOC","t":104,"v":295},{"g":"c","id":"c7","soc":"85% SOC","t":107,"v":285},{"g":"c","id":"c7","soc":"85% SOC","t":110,"v":350},{"g":"c","id":"c7","soc":"85% SOC","t":113,"v":400},{"g":"c","id":"c7","soc":"85% SOC","t":116,"v":430},{"g":"c","id":"c7","soc":"85% SOC","t":119,"v":420},{"g":"c","id":"c7","soc":"85% SOC","t":122,"v":400},{"g":"c","id":"c7","soc":"85% SOC","t":124,"v":330},{"g":"c","id":"c7","soc":"85% SOC","t":127,"v":290},{"g":"c","id":"c7","soc":"85% SOC","t":130,"v":270},{"g":"c","id":"c7","soc":"85% SOC","t":140,"v":268},{"g":"c","id":"c7","soc":"85% SOC","t":150,"v":272},{"g":"c","id":"c7","soc":"85% SOC","t":170,"v":280},{"g":"c","id":"c7","soc":"85% SOC","t":190,"v":288},{"g":"c","id":"c7","soc":"85% SOC","t":200,"v":290},
      {"g":"c","id":"c8","soc":"85% SOC","t":0,"v":25},{"g":"c","id":"c8","soc":"85% SOC","t":105,"v":30},{"g":"c","id":"c8","soc":"85% SOC","t":107,"v":150},{"g":"c","id":"c8","soc":"85% SOC","t":109,"v":300},{"g":"c","id":"c8","soc":"85% SOC","t":110,"v":400},{"g":"c","id":"c8","soc":"85% SOC","t":112,"v":470},{"g":"c","id":"c8","soc":"85% SOC","t":115,"v":500},{"g":"c","id":"c8","soc":"85% SOC","t":118,"v":520},{"g":"c","id":"c8","soc":"85% SOC","t":122,"v":530},{"g":"c","id":"c8","soc":"85% SOC","t":126,"v":520},{"g":"c","id":"c8","soc":"85% SOC","t":130,"v":490},{"g":"c","id":"c8","soc":"85% SOC","t":135,"v":460},{"g":"c","id":"c8","soc":"85% SOC","t":140,"v":430},{"g":"c","id":"c8","soc":"85% SOC","t":150,"v":405},{"g":"c","id":"c8","soc":"85% SOC","t":160,"v":385},{"g":"c","id":"c8","soc":"85% SOC","t":175,"v":370},{"g":"c","id":"c8","soc":"85% SOC","t":190,"v":360},{"g":"c","id":"c8","soc":"85% SOC","t":200,"v":350},
      {"g":"c","id":"c9","soc":"70% SOC","t":0,"v":25},{"g":"c","id":"c9","soc":"70% SOC","t":117,"v":30},{"g":"c","id":"c9","soc":"70% SOC","t":119,"v":120},{"g":"c","id":"c9","soc":"70% SOC","t":122,"v":180},{"g":"c","id":"c9","soc":"70% SOC","t":126,"v":190},{"g":"c","id":"c9","soc":"70% SOC","t":130,"v":210},{"g":"c","id":"c9","soc":"70% SOC","t":133,"v":250},{"g":"c","id":"c9","soc":"70% SOC","t":136,"v":300},{"g":"c","id":"c9","soc":"70% SOC","t":140,"v":350},{"g":"c","id":"c9","soc":"70% SOC","t":144,"v":400},{"g":"c","id":"c9","soc":"70% SOC","t":148,"v":440},{"g":"c","id":"c9","soc":"70% SOC","t":152,"v":470},{"g":"c","id":"c9","soc":"70% SOC","t":156,"v":460},{"g":"c","id":"c9","soc":"70% SOC","t":160,"v":470},{"g":"c","id":"c9","soc":"70% SOC","t":164,"v":490},{"g":"c","id":"c9","soc":"70% SOC","t":168,"v":520},{"g":"c","id":"c9","soc":"70% SOC","t":173,"v":525},{"g":"c","id":"c9","soc":"70% SOC","t":178,"v":510},{"g":"c","id":"c9","soc":"70% SOC","t":184,"v":505},{"g":"c","id":"c9","soc":"70% SOC","t":190,"v":520},{"g":"c","id":"c9","soc":"70% SOC","t":195,"v":510},{"g":"c","id":"c9","soc":"70% SOC","t":200,"v":500},
      {"g":"c","id":"c10","soc":"70% SOC","t":0,"v":25},{"g":"c","id":"c10","soc":"70% SOC","t":125,"v":30},{"g":"c","id":"c10","soc":"70% SOC","t":127,"v":150},{"g":"c","id":"c10","soc":"70% SOC","t":130,"v":250},{"g":"c","id":"c10","soc":"70% SOC","t":134,"v":320},{"g":"c","id":"c10","soc":"70% SOC","t":138,"v":360},{"g":"c","id":"c10","soc":"70% SOC","t":142,"v":400},{"g":"c","id":"c10","soc":"70% SOC","t":146,"v":420},{"g":"c","id":"c10","soc":"70% SOC","t":150,"v":425},{"g":"c","id":"c10","soc":"70% SOC","t":155,"v":410},{"g":"c","id":"c10","soc":"70% SOC","t":160,"v":400},{"g":"c","id":"c10","soc":"70% SOC","t":170,"v":380},{"g":"c","id":"c10","soc":"70% SOC","t":180,"v":365},{"g":"c","id":"c10","soc":"70% SOC","t":200,"v":355},
      {"g":"c","id":"c11","soc":"70% SOC","t":0,"v":25},{"g":"c","id":"c11","soc":"70% SOC","t":127,"v":30},{"g":"c","id":"c11","soc":"70% SOC","t":129,"v":200},{"g":"c","id":"c11","soc":"70% SOC","t":132,"v":270},{"g":"c","id":"c11","soc":"70% SOC","t":136,"v":310},{"g":"c","id":"c11","soc":"70% SOC","t":140,"v":330},{"g":"c","id":"c11","soc":"70% SOC","t":145,"v":325},{"g":"c","id":"c11","soc":"70% SOC","t":150,"v":315},{"g":"c","id":"c11","soc":"70% SOC","t":160,"v":305},{"g":"c","id":"c11","soc":"70% SOC","t":170,"v":300},{"g":"c","id":"c11","soc":"70% SOC","t":180,"v":295},{"g":"c","id":"c11","soc":"70% SOC","t":190,"v":292},{"g":"c","id":"c11","soc":"70% SOC","t":200,"v":290},
      {"g":"c","id":"c12","soc":"70% SOC","t":0,"v":25},{"g":"c","id":"c12","soc":"70% SOC","t":143,"v":35},{"g":"c","id":"c12","soc":"70% SOC","t":144,"v":150},{"g":"c","id":"c12","soc":"70% SOC","t":145,"v":270},{"g":"c","id":"c12","soc":"70% SOC","t":147,"v":320},{"g":"c","id":"c12","soc":"70% SOC","t":150,"v":340},{"g":"c","id":"c12","soc":"70% SOC","t":155,"v":360},{"g":"c","id":"c12","soc":"70% SOC","t":160,"v":380},{"g":"c","id":"c12","soc":"70% SOC","t":165,"v":410},{"g":"c","id":"c12","soc":"70% SOC","t":170,"v":420},{"g":"c","id":"c12","soc":"70% SOC","t":176,"v":420},{"g":"c","id":"c12","soc":"70% SOC","t":183,"v":410},{"g":"c","id":"c12","soc":"70% SOC","t":190,"v":400},{"g":"c","id":"c12","soc":"70% SOC","t":200,"v":395}
    ],
    "diag": [{"t": 0, "d": 0}, {"t": 200, "d": 20}],
    "strip": [
      {"g":"a","soc":"70% SOC","d":18.2},{"g":"a","soc":"70% SOC","d":17.6},{"g":"a","soc":"70% SOC","d":16.9},{"g":"a","soc":"70% SOC","d":15.0},
      {"g":"a","soc":"85% SOC","d":12.4},{"g":"a","soc":"85% SOC","d":11.35},{"g":"a","soc":"85% SOC","d":10.8},{"g":"a","soc":"85% SOC","d":10.2},
      {"g":"a","soc":"100% SOC","d":9.5},{"g":"a","soc":"100% SOC","d":8.8},{"g":"a","soc":"100% SOC","d":8.2},{"g":"a","soc":"100% SOC","d":7.85},
      {"g":"b","soc":"70% SOC","d":15.3},{"g":"b","soc":"70% SOC","d":14.35},{"g":"b","soc":"70% SOC","d":13.75},{"g":"b","soc":"70% SOC","d":12.5},
      {"g":"b","soc":"85% SOC","d":11.0},{"g":"b","soc":"85% SOC","d":10.15},{"g":"b","soc":"85% SOC","d":9.65},{"g":"b","soc":"85% SOC","d":9.2},
      {"g":"b","soc":"100% SOC","d":8.25},{"g":"b","soc":"100% SOC","d":7.8},{"g":"b","soc":"100% SOC","d":6.5},{"g":"b","soc":"100% SOC","d":6.0},
      {"g":"c","soc":"70% SOC","d":14.45},{"g":"c","soc":"70% SOC","d":12.75},{"g":"c","soc":"70% SOC","d":12.6},{"g":"c","soc":"70% SOC","d":11.55},
      {"g":"c","soc":"85% SOC","d":10.85},{"g":"c","soc":"85% SOC","d":9.85},{"g":"c","soc":"85% SOC","d":9.2},{"g":"c","soc":"85% SOC","d":8.25},
      {"g":"c","soc":"100% SOC","d":6.6},{"g":"c","soc":"100% SOC","d":6.25},{"g":"c","soc":"100% SOC","d":5.85},{"g":"c","soc":"100% SOC","d":5.3}
    ],
    "p2": [
      {"g":"d","soc":"100% SOC","p":0,"x":0},{"g":"d","soc":"100% SOC","p":0,"x":5.8},
      {"g":"d","soc":"100% SOC","p":0.01,"x":6.6,"lo":6.4,"hi":6.8},{"g":"d","soc":"100% SOC","p":0.05,"x":7.42,"lo":7.22,"hi":7.62},{"g":"d","soc":"100% SOC","p":0.1,"x":7.78,"lo":7.58,"hi":7.98},{"g":"d","soc":"100% SOC","p":0.2,"x":8.15,"lo":7.95,"hi":8.35},{"g":"d","soc":"100% SOC","p":0.35,"x":8.48,"lo":8.28,"hi":8.68},{"g":"d","soc":"100% SOC","p":0.5,"x":8.72,"lo":8.52,"hi":8.92},{"g":"d","soc":"100% SOC","p":0.65,"x":8.92,"lo":8.72,"hi":9.12},{"g":"d","soc":"100% SOC","p":0.8,"x":9.14,"lo":8.94,"hi":9.34},{"g":"d","soc":"100% SOC","p":0.9,"x":9.32,"lo":9.12,"hi":9.52},{"g":"d","soc":"100% SOC","p":0.97,"x":9.53,"lo":9.33,"hi":9.73},{"g":"d","soc":"100% SOC","p":0.995,"x":9.73,"lo":9.53,"hi":9.93},
      {"g":"d","soc":"100% SOC","p":1,"x":10.0},{"g":"d","soc":"100% SOC","p":1,"x":20},
      {"g":"d","soc":"85% SOC","p":0,"x":0},{"g":"d","soc":"85% SOC","p":0,"x":8.0},
      {"g":"d","soc":"85% SOC","p":0.01,"x":8.83,"lo":8.38,"hi":9.28},{"g":"d","soc":"85% SOC","p":0.05,"x":9.73,"lo":9.28,"hi":10.18},{"g":"d","soc":"85% SOC","p":0.1,"x":10.12,"lo":9.67,"hi":10.57},{"g":"d","soc":"85% SOC","p":0.2,"x":10.54,"lo":10.09,"hi":10.99},{"g":"d","soc":"85% SOC","p":0.35,"x":10.9,"lo":10.45,"hi":11.35},{"g":"d","soc":"85% SOC","p":0.5,"x":11.16,"lo":10.71,"hi":11.61},{"g":"d","soc":"85% SOC","p":0.65,"x":11.39,"lo":10.94,"hi":11.84},{"g":"d","soc":"85% SOC","p":0.8,"x":11.62,"lo":11.17,"hi":12.07},{"g":"d","soc":"85% SOC","p":0.9,"x":11.82,"lo":11.37,"hi":12.27},{"g":"d","soc":"85% SOC","p":0.97,"x":12.05,"lo":11.6,"hi":12.5},{"g":"d","soc":"85% SOC","p":0.995,"x":12.28,"lo":11.83,"hi":12.73},
      {"g":"d","soc":"85% SOC","p":1,"x":12.7},{"g":"d","soc":"85% SOC","p":1,"x":20},
      {"g":"d","soc":"70% SOC","p":0,"x":0},{"g":"d","soc":"70% SOC","p":0,"x":12.8},
      {"g":"d","soc":"70% SOC","p":0.01,"x":13.75,"lo":13.2,"hi":14.3},{"g":"d","soc":"70% SOC","p":0.05,"x":14.81,"lo":14.26,"hi":15.36},{"g":"d","soc":"70% SOC","p":0.1,"x":15.28,"lo":14.73,"hi":15.83},{"g":"d","soc":"70% SOC","p":0.2,"x":15.77,"lo":15.22,"hi":16.32},{"g":"d","soc":"70% SOC","p":0.35,"x":16.19,"lo":15.64,"hi":16.74},{"g":"d","soc":"70% SOC","p":0.5,"x":16.5,"lo":15.95,"hi":17.05},{"g":"d","soc":"70% SOC","p":0.65,"x":16.77,"lo":16.22,"hi":17.32},{"g":"d","soc":"70% SOC","p":0.8,"x":17.05,"lo":16.5,"hi":17.6},{"g":"d","soc":"70% SOC","p":0.9,"x":17.28,"lo":16.73,"hi":17.83},{"g":"d","soc":"70% SOC","p":0.97,"x":17.56,"lo":17.01,"hi":18.11},{"g":"d","soc":"70% SOC","p":0.995,"x":17.82,"lo":17.27,"hi":18.37},
      {"g":"d","soc":"70% SOC","p":1,"x":18.2},{"g":"d","soc":"70% SOC","p":1,"x":20},
      {"g":"e","soc":"100% SOC","p":0,"x":0},{"g":"e","soc":"100% SOC","p":0,"x":3.8},
      {"g":"e","soc":"100% SOC","p":0.01,"x":4.49,"lo":3.99,"hi":4.99},{"g":"e","soc":"100% SOC","p":0.05,"x":5.6,"lo":5.1,"hi":6.1},{"g":"e","soc":"100% SOC","p":0.1,"x":6.09,"lo":5.59,"hi":6.59},{"g":"e","soc":"100% SOC","p":0.2,"x":6.6,"lo":6.1,"hi":7.1},{"g":"e","soc":"100% SOC","p":0.35,"x":7.05,"lo":6.55,"hi":7.55},{"g":"e","soc":"100% SOC","p":0.5,"x":7.37,"lo":6.87,"hi":7.87},{"g":"e","soc":"100% SOC","p":0.65,"x":7.65,"lo":7.15,"hi":8.15},{"g":"e","soc":"100% SOC","p":0.8,"x":7.94,"lo":7.44,"hi":8.44},{"g":"e","soc":"100% SOC","p":0.9,"x":8.19,"lo":7.69,"hi":8.69},{"g":"e","soc":"100% SOC","p":0.97,"x":8.47,"lo":7.97,"hi":8.97},{"g":"e","soc":"100% SOC","p":0.995,"x":8.75,"lo":8.25,"hi":9.25},
      {"g":"e","soc":"100% SOC","p":1,"x":9.2},{"g":"e","soc":"100% SOC","p":1,"x":20},
      {"g":"e","soc":"85% SOC","p":0,"x":0},{"g":"e","soc":"85% SOC","p":0,"x":7.3},
      {"g":"e","soc":"85% SOC","p":0.01,"x":8.16,"lo":7.81,"hi":8.51},{"g":"e","soc":"85% SOC","p":0.05,"x":8.98,"lo":8.63,"hi":9.33},{"g":"e","soc":"85% SOC","p":0.1,"x":9.34,"lo":8.99,"hi":9.69},{"g":"e","soc":"85% SOC","p":0.2,"x":9.71,"lo":9.36,"hi":10.06},{"g":"e","soc":"85% SOC","p":0.35,"x":10.04,"lo":9.69,"hi":10.39},{"g":"e","soc":"85% SOC","p":0.5,"x":10.28,"lo":9.93,"hi":10.63},{"g":"e","soc":"85% SOC","p":0.65,"x":10.48,"lo":10.13,"hi":10.83},{"g":"e","soc":"85% SOC","p":0.8,"x":10.7,"lo":10.35,"hi":11.05},{"g":"e","soc":"85% SOC","p":0.9,"x":10.88,"lo":10.53,"hi":11.23},{"g":"e","soc":"85% SOC","p":0.97,"x":11.09,"lo":10.74,"hi":11.44},{"g":"e","soc":"85% SOC","p":0.995,"x":11.29,"lo":10.94,"hi":11.64},
      {"g":"e","soc":"85% SOC","p":1,"x":11.6},{"g":"e","soc":"85% SOC","p":1,"x":20},
      {"g":"e","soc":"70% SOC","p":0,"x":0},{"g":"e","soc":"70% SOC","p":0,"x":10.3},
      {"g":"e","soc":"70% SOC","p":0.01,"x":11.18,"lo":10.68,"hi":11.68},{"g":"e","soc":"70% SOC","p":0.05,"x":12.29,"lo":11.79,"hi":12.79},{"g":"e","soc":"70% SOC","p":0.1,"x":12.78,"lo":12.28,"hi":13.28},{"g":"e","soc":"70% SOC","p":0.2,"x":13.29,"lo":12.79,"hi":13.79},{"g":"e","soc":"70% SOC","p":0.35,"x":13.74,"lo":13.24,"hi":14.24},{"g":"e","soc":"70% SOC","p":0.5,"x":14.06,"lo":13.56,"hi":14.56},{"g":"e","soc":"70% SOC","p":0.65,"x":14.34,"lo":13.84,"hi":14.84},{"g":"e","soc":"70% SOC","p":0.8,"x":14.63,"lo":14.13,"hi":15.13},{"g":"e","soc":"70% SOC","p":0.9,"x":14.88,"lo":14.38,"hi":15.38},{"g":"e","soc":"70% SOC","p":0.97,"x":15.16,"lo":14.66,"hi":15.66},{"g":"e","soc":"70% SOC","p":0.995,"x":15.44,"lo":14.94,"hi":15.94},
      {"g":"e","soc":"70% SOC","p":1,"x":15.9},{"g":"e","soc":"70% SOC","p":1,"x":20},
      {"g":"f","soc":"100% SOC","p":0,"x":0},{"g":"f","soc":"100% SOC","p":0,"x":3.6},
      {"g":"f","soc":"100% SOC","p":0.01,"x":4.42,"lo":3.97,"hi":4.87},{"g":"f","soc":"100% SOC","p":0.05,"x":5.24,"lo":4.79,"hi":5.69},{"g":"f","soc":"100% SOC","p":0.1,"x":5.6,"lo":5.15,"hi":6.05},{"g":"f","soc":"100% SOC","p":0.2,"x":5.97,"lo":5.52,"hi":6.42},{"g":"f","soc":"100% SOC","p":0.35,"x":6.3,"lo":5.85,"hi":6.75},{"g":"f","soc":"100% SOC","p":0.5,"x":6.54,"lo":6.09,"hi":6.99},{"g":"f","soc":"100% SOC","p":0.65,"x":6.74,"lo":6.29,"hi":7.19},{"g":"f","soc":"100% SOC","p":0.8,"x":6.96,"lo":6.51,"hi":7.41},{"g":"f","soc":"100% SOC","p":0.9,"x":7.14,"lo":6.69,"hi":7.59},{"g":"f","soc":"100% SOC","p":0.97,"x":7.35,"lo":6.9,"hi":7.8},{"g":"f","soc":"100% SOC","p":0.995,"x":7.55,"lo":7.1,"hi":8.0},
      {"g":"f","soc":"100% SOC","p":1,"x":8.0},{"g":"f","soc":"100% SOC","p":1,"x":20},
      {"g":"f","soc":"85% SOC","p":0,"x":0},{"g":"f","soc":"85% SOC","p":0,"x":6.3},
      {"g":"f","soc":"85% SOC","p":0.01,"x":7.28,"lo":6.73,"hi":7.83},{"g":"f","soc":"85% SOC","p":0.05,"x":8.29,"lo":7.74,"hi":8.84},{"g":"f","soc":"85% SOC","p":0.1,"x":8.74,"lo":8.19,"hi":9.29},{"g":"f","soc":"85% SOC","p":0.2,"x":9.2,"lo":8.65,"hi":9.75},{"g":"f","soc":"85% SOC","p":0.35,"x":9.61,"lo":9.06,"hi":10.16},{"g":"f","soc":"85% SOC","p":0.5,"x":9.9,"lo":9.35,"hi":10.45},{"g":"f","soc":"85% SOC","p":0.65,"x":10.16,"lo":9.61,"hi":10.71},{"g":"f","soc":"85% SOC","p":0.8,"x":10.43,"lo":9.88,"hi":10.98},{"g":"f","soc":"85% SOC","p":0.9,"x":10.65,"lo":10.1,"hi":11.2},{"g":"f","soc":"85% SOC","p":0.97,"x":10.91,"lo":10.36,"hi":11.46},{"g":"f","soc":"85% SOC","p":0.995,"x":11.16,"lo":10.61,"hi":11.71},
      {"g":"f","soc":"85% SOC","p":1,"x":11.6},{"g":"f","soc":"85% SOC","p":1,"x":20},
      {"g":"f","soc":"70% SOC","p":0,"x":0},{"g":"f","soc":"70% SOC","p":0,"x":9.0},
      {"g":"f","soc":"70% SOC","p":0.01,"x":9.99,"lo":9.44,"hi":10.54},{"g":"f","soc":"70% SOC","p":0.05,"x":11.21,"lo":10.66,"hi":11.76},{"g":"f","soc":"70% SOC","p":0.1,"x":11.75,"lo":11.2,"hi":12.3},{"g":"f","soc":"70% SOC","p":0.2,"x":12.32,"lo":11.77,"hi":12.87},{"g":"f","soc":"70% SOC","p":0.35,"x":12.81,"lo":12.26,"hi":13.36},{"g":"f","soc":"70% SOC","p":0.5,"x":13.16,"lo":12.61,"hi":13.71},{"g":"f","soc":"70% SOC","p":0.65,"x":13.48,"lo":12.93,"hi":14.03},{"g":"f","soc":"70% SOC","p":0.8,"x":13.8,"lo":13.25,"hi":14.35},{"g":"f","soc":"70% SOC","p":0.9,"x":14.07,"lo":13.52,"hi":14.62},{"g":"f","soc":"70% SOC","p":0.97,"x":14.38,"lo":13.83,"hi":14.93},{"g":"f","soc":"70% SOC","p":0.995,"x":14.69,"lo":14.14,"hi":15.24},
      {"g":"f","soc":"70% SOC","p":1,"x":15.2},{"g":"f","soc":"70% SOC","p":1,"x":20}
    ]
  },
  "concat": [
    {
      "width": 321.3, "height": 190,
      "view": {"stroke": null},
      "title": {"text": "a", "anchor": "start", "frame": "group", "dx": -50, "dy": 7, "offset": 3, "fontSize": 18, "fontWeight": "bold", "color": "#000"},
      "layer": [
        {
          "layer": [
            {
              "data": {"name": "temp"},
              "transform": [{"filter": "datum.g === 'a'"}],
              "mark": {"type": "line", "strokeWidth": 1.2},
              "encoding": {
                "x": {"field": "t", "type": "quantitative", "scale": {"domain": [0, 200], "range": [0, 312], "nice": false}, "axis": {"title": "Time (s)", "values": [0, 50, 100, 150, 200], "titlePadding": 7}},
                "y": {"field": "v", "type": "quantitative", "scale": {"domain": [0, 800], "nice": false}, "axis": {"title": "Temperature (℃)", "values": [0, 200, 400, 600, 800], "titlePadding": 14}},
                "detail": {"field": "id", "type": "nominal"},
                "color": {"field": "soc", "type": "nominal", "scale": {"domain": ["100% SOC", "85% SOC", "70% SOC"], "range": ["#F5484A", "#F8973A", "#FFC61A"]},
                  "legend": {"title": null, "orient": "none", "legendX": 31, "legendY": 43, "padding": 0, "symbolSize": 100, "symbolStrokeWidth": 1.2, "rowPadding": 5, "labelOffset": 5,
                    "encode": {"symbols": {"update": {
                      "shape": {"signal": "datum.value === '100% SOC' ? 'M-6.2,0H-1.4M-0.8,0A0.8,0.8 0 1,0 0.8,0A0.8,0.8 0 1,0 -0.8,0Z' : datum.value === '85% SOC' ? 'M-6.2,0H-1.4M0,-0.85L0.9,0.7L-0.9,0.7Z' : 'M-6.2,0H-1.4M0,-0.95L0.22,-0.31L0.9,-0.29L0.36,0.12L0.56,0.77L0,0.38L-0.56,0.77L-0.36,0.12L-0.9,-0.29L-0.22,-0.31Z'"},
                      "fill": {"signal": "datum.value === '100% SOC' ? '#F5484A' : datum.value === '85% SOC' ? '#F8973A' : '#FFC61A'"}}}}}},
                "strokeDash": {"field": "soc", "type": "nominal", "scale": {"domain": ["100% SOC", "85% SOC", "70% SOC"], "range": [[1, 0], [6, 4], [1.5, 1.5]]}}
              }
            },
            {
              "data": {"values": [{}]},
              "mark": {"type": "text", "align": "left", "baseline": "middle", "fontSize": 10, "fontWeight": "bold", "color": "#F7A24C"},
              "encoding": {"x": {"datum": 4.7, "type": "quantitative"}, "y": {"datum": 737, "type": "quantitative"}, "text": {"value": "95%SOH"}}
            },
            {
              "data": {"values": [{}]},
              "mark": {"type": "rect", "fillOpacity": 0, "stroke": "#666", "strokeWidth": 1},
              "encoding": {"x": {"datum": 0, "type": "quantitative"}, "x2": {"datum": 200}, "y": {"datum": 0, "type": "quantitative"}, "y2": {"datum": 800}}
            }
          ]
        },
        {
          "data": {"name": "diag"},
          "mark": {"type": "line", "color": "#111", "strokeDash": [5, 4], "strokeWidth": 1.2},
          "encoding": {
            "x": {"field": "t", "type": "quantitative"},
            "y": {"field": "d", "type": "quantitative", "scale": {"domain": [0, 20], "nice": false}, "axis": {"orient": "right", "title": null, "values": [0, 5, 10, 15, 20], "offset": -9.3}}
          }
        }
      ],
      "resolve": {"scale": {"y": "independent"}}
    },
    {
      "width": 67, "height": 190,
      "data": {"name": "strip"},
      "transform": [{"filter": "datum.g === 'a'"}],
      "layer": [
        {"mark": {"type": "rule", "strokeDash": [3, 2], "color": "#555", "strokeWidth": 1},
         "encoding": {"y": {"field": "d", "type": "quantitative", "scale": {"domain": [0, 20], "nice": false}, "axis": {"title": "Penetration depth (mm)", "values": [0, 5, 10, 15, 20], "titlePadding": 9}}}},
        {"mark": {"type": "point", "filled": true, "opacity": 1, "size": 100},
         "encoding": {
           "x": {"datum": 1, "type": "quantitative", "scale": {"domain": [0, 2]}, "axis": null},
           "y": {"field": "d", "type": "quantitative"},
           "shape": {"field": "soc", "type": "nominal", "scale": {"domain": ["100% SOC", "85% SOC", "70% SOC"], "range": ["circle", "triangle-up", "M0,-1L0.235,-0.324L0.951,-0.309L0.38,0.124L0.588,0.809L0,0.4L-0.588,0.809L-0.38,0.124L-0.951,-0.309L-0.235,-0.324Z"]}, "legend": null},
           "color": {"field": "soc", "type": "nominal", "scale": {"domain": ["100% SOC", "85% SOC", "70% SOC"], "range": ["#F5484A", "#F8973A", "#FFC61A"]}, "legend": null}
         }}
      ]
    },
    {
      "width": 224, "height": 190,
      "title": {"text": "d", "anchor": "start", "frame": "group", "dx": -43, "dy": 7, "offset": 3, "fontSize": 18, "fontWeight": "bold", "color": "#000"},
      "data": {"name": "p2"},
      "transform": [{"filter": "datum.g === 'd'"}],
      "encoding": {
        "y": {"field": "p", "type": "quantitative", "scale": {"domain": [-0.1, 1.1], "nice": false}, "axis": {"title": "P2", "values": [0, 0.2, 0.4, 0.6, 0.8, 1], "labelExpr": "format(datum.value, '.1f')", "titlePadding": 11, "labelOverlap": false}}
      },
      "layer": [
        {"transform": [{"filter": "isValid(datum.lo)"}],
         "mark": {"type": "area", "orient": "horizontal", "opacity": 1},
         "encoding": {
           "x": {"field": "lo", "type": "quantitative", "scale": {"domain": [0, 20], "nice": false}, "axis": {"title": "Penetration depth (mm)", "values": [0, 5, 10, 15, 20], "titlePadding": 4}},
           "x2": {"field": "hi"},
           "detail": {"field": "soc", "type": "nominal"},
           "fill": {"datum": "95% CI", "type": "nominal", "scale": {"domain": ["95% CI"], "range": ["#FFE9AE"]},
             "legend": {"title": null, "orient": "none", "legendX": 22, "legendY": 43, "padding": 0, "symbolType": "M-3,-0.8H1V0.8H-3Z", "symbolSize": 100, "symbolStrokeWidth": 0, "labelOffset": 5, "labelFontSize": 9.5}}
         }},
        {"mark": {"type": "line", "strokeWidth": 1.3},
         "encoding": {
           "x": {"field": "x", "type": "quantitative"},
           "color": {"field": "soc", "type": "nominal", "scale": {"domain": ["100% SOC", "85% SOC", "70% SOC"], "range": ["#F5484A", "#F8973A", "#FFC61A"]}, "legend": null},
           "strokeDash": {"field": "soc", "type": "nominal", "scale": {"domain": ["100% SOC", "85% SOC", "70% SOC"], "range": [[1, 0], [6, 4], [1.5, 2]]}, "legend": null}
         }}
      ]
    },
    {
      "width": 321.3, "height": 190,
      "view": {"stroke": null},
      "title": {"text": "b", "anchor": "start", "frame": "group", "dx": -50, "dy": 7, "offset": 3, "fontSize": 18, "fontWeight": "bold", "color": "#000"},
      "layer": [
        {
          "layer": [
            {
              "data": {"name": "temp"},
              "transform": [{"filter": "datum.g === 'b'"}],
              "mark": {"type": "line", "strokeWidth": 1.2},
              "encoding": {
                "x": {"field": "t", "type": "quantitative", "scale": {"domain": [0, 200], "range": [0, 312], "nice": false}, "axis": {"title": "Time (s)", "values": [0, 50, 100, 150, 200], "titlePadding": 7}},
                "y": {"field": "v", "type": "quantitative", "scale": {"domain": [0, 800], "nice": false}, "axis": {"title": "Temperature (℃)", "values": [0, 200, 400, 600, 800], "titlePadding": 14}},
                "detail": {"field": "id", "type": "nominal"},
                "color": {"field": "soc", "type": "nominal", "scale": {"domain": ["100% SOC", "85% SOC", "70% SOC"], "range": ["#175C8F", "#1F88C9", "#19B4EA"]},
                  "legend": {"title": null, "orient": "none", "legendX": 31, "legendY": 43, "padding": 0, "symbolSize": 100, "symbolStrokeWidth": 1.2, "rowPadding": 5, "labelOffset": 5,
                    "encode": {"symbols": {"update": {
                      "shape": {"signal": "datum.value === '100% SOC' ? 'M-6.2,0H-1.4M-0.8,0A0.8,0.8 0 1,0 0.8,0A0.8,0.8 0 1,0 -0.8,0Z' : datum.value === '85% SOC' ? 'M-6.2,0H-1.4M0,-0.85L0.9,0.7L-0.9,0.7Z' : 'M-6.2,0H-1.4M0,-0.95L0.22,-0.31L0.9,-0.29L0.36,0.12L0.56,0.77L0,0.38L-0.56,0.77L-0.36,0.12L-0.9,-0.29L-0.22,-0.31Z'"},
                      "fill": {"signal": "datum.value === '100% SOC' ? '#175C8F' : datum.value === '85% SOC' ? '#1F88C9' : '#19B4EA'"}}}}}},
                "strokeDash": {"field": "soc", "type": "nominal", "scale": {"domain": ["100% SOC", "85% SOC", "70% SOC"], "range": [[1, 0], [6, 4], [1.5, 1.5]]}}
              }
            },
            {
              "data": {"values": [{}]},
              "mark": {"type": "text", "align": "left", "baseline": "middle", "fontSize": 10, "fontWeight": "bold", "color": "#1E9BDC"},
              "encoding": {"x": {"datum": 4.7, "type": "quantitative"}, "y": {"datum": 737, "type": "quantitative"}, "text": {"value": "85%SOH"}}
            },
            {
              "data": {"values": [{}]},
              "mark": {"type": "rect", "fillOpacity": 0, "stroke": "#666", "strokeWidth": 1},
              "encoding": {"x": {"datum": 0, "type": "quantitative"}, "x2": {"datum": 200}, "y": {"datum": 0, "type": "quantitative"}, "y2": {"datum": 800}}
            }
          ]
        },
        {
          "data": {"name": "diag"},
          "mark": {"type": "line", "color": "#111", "strokeDash": [5, 4], "strokeWidth": 1.2},
          "encoding": {
            "x": {"field": "t", "type": "quantitative"},
            "y": {"field": "d", "type": "quantitative", "scale": {"domain": [0, 20], "nice": false}, "axis": {"orient": "right", "title": null, "values": [0, 5, 10, 15, 20], "offset": -9.3}}
          }
        }
      ],
      "resolve": {"scale": {"y": "independent"}}
    },
    {
      "width": 67, "height": 190,
      "data": {"name": "strip"},
      "transform": [{"filter": "datum.g === 'b'"}],
      "layer": [
        {"mark": {"type": "rule", "strokeDash": [3, 2], "color": "#555", "strokeWidth": 1},
         "encoding": {"y": {"field": "d", "type": "quantitative", "scale": {"domain": [0, 20], "nice": false}, "axis": {"title": "Penetration depth (mm)", "values": [0, 5, 10, 15, 20], "titlePadding": 9}}}},
        {"mark": {"type": "point", "filled": true, "opacity": 1, "size": 100},
         "encoding": {
           "x": {"datum": 1, "type": "quantitative", "scale": {"domain": [0, 2]}, "axis": null},
           "y": {"field": "d", "type": "quantitative"},
           "shape": {"field": "soc", "type": "nominal", "scale": {"domain": ["100% SOC", "85% SOC", "70% SOC"], "range": ["circle", "triangle-up", "M0,-1L0.235,-0.324L0.951,-0.309L0.38,0.124L0.588,0.809L0,0.4L-0.588,0.809L-0.38,0.124L-0.951,-0.309L-0.235,-0.324Z"]}, "legend": null},
           "color": {"field": "soc", "type": "nominal", "scale": {"domain": ["100% SOC", "85% SOC", "70% SOC"], "range": ["#0F4F85", "#1F88C9", "#19B4EA"]}, "legend": null}
         }}
      ]
    },
    {
      "width": 224, "height": 190,
      "title": {"text": "e", "anchor": "start", "frame": "group", "dx": -43, "dy": 7, "offset": 3, "fontSize": 18, "fontWeight": "bold", "color": "#000"},
      "data": {"name": "p2"},
      "transform": [{"filter": "datum.g === 'e'"}],
      "encoding": {
        "y": {"field": "p", "type": "quantitative", "scale": {"domain": [-0.1, 1.1], "nice": false}, "axis": {"title": "P2", "values": [0, 0.2, 0.4, 0.6, 0.8, 1], "labelExpr": "format(datum.value, '.1f')", "titlePadding": 11, "labelOverlap": false}}
      },
      "layer": [
        {"transform": [{"filter": "isValid(datum.lo)"}],
         "mark": {"type": "area", "orient": "horizontal", "opacity": 1},
         "encoding": {
           "x": {"field": "lo", "type": "quantitative", "scale": {"domain": [0, 20], "nice": false}, "axis": {"title": "Penetration depth (mm)", "values": [0, 5, 10, 15, 20], "titlePadding": 4}},
           "x2": {"field": "hi"},
           "detail": {"field": "soc", "type": "nominal"},
           "fill": {"datum": "95% CI", "type": "nominal", "scale": {"domain": ["95% CI"], "range": ["#A6E1F5"]},
             "legend": {"title": null, "orient": "none", "legendX": 22, "legendY": 43, "padding": 0, "symbolType": "M-3,-0.8H1V0.8H-3Z", "symbolSize": 100, "symbolStrokeWidth": 0, "labelOffset": 5, "labelFontSize": 9.5}}
         }},
        {"mark": {"type": "line", "strokeWidth": 1.3},
         "encoding": {
           "x": {"field": "x", "type": "quantitative"},
           "color": {"field": "soc", "type": "nominal", "scale": {"domain": ["100% SOC", "85% SOC", "70% SOC"], "range": ["#175C8F", "#1F88C9", "#19B4EA"]}, "legend": null},
           "strokeDash": {"field": "soc", "type": "nominal", "scale": {"domain": ["100% SOC", "85% SOC", "70% SOC"], "range": [[1, 0], [6, 4], [1.5, 2]]}, "legend": null}
         }}
      ]
    },
    {
      "width": 321.3, "height": 190,
      "view": {"stroke": null},
      "title": {"text": "c", "anchor": "start", "frame": "group", "dx": -50, "dy": 7, "offset": 3, "fontSize": 18, "fontWeight": "bold", "color": "#000"},
      "layer": [
        {
          "layer": [
            {
              "data": {"name": "temp"},
              "transform": [{"filter": "datum.g === 'c'"}],
              "mark": {"type": "line", "strokeWidth": 1.2},
              "encoding": {
                "x": {"field": "t", "type": "quantitative", "scale": {"domain": [0, 200], "range": [0, 312], "nice": false}, "axis": {"title": "Time (s)", "values": [0, 50, 100, 150, 200], "titlePadding": 7}},
                "y": {"field": "v", "type": "quantitative", "scale": {"domain": [0, 800], "nice": false}, "axis": {"title": "Temperature (℃)", "values": [0, 200, 400, 600, 800], "titlePadding": 14}},
                "detail": {"field": "id", "type": "nominal"},
                "color": {"field": "soc", "type": "nominal", "scale": {"domain": ["100% SOC", "85% SOC", "70% SOC"], "range": ["#4A4A54", "#5C6A8C", "#A3A5C3"]},
                  "legend": {"title": null, "orient": "none", "legendX": 31, "legendY": 43, "padding": 0, "symbolSize": 100, "symbolStrokeWidth": 1.2, "rowPadding": 5, "labelOffset": 5,
                    "encode": {"symbols": {"update": {
                      "shape": {"signal": "datum.value === '100% SOC' ? 'M-6.2,0H-1.4M-0.8,0A0.8,0.8 0 1,0 0.8,0A0.8,0.8 0 1,0 -0.8,0Z' : datum.value === '85% SOC' ? 'M-6.2,0H-1.4M0,-0.85L0.9,0.7L-0.9,0.7Z' : 'M-6.2,0H-1.4M0,-0.95L0.22,-0.31L0.9,-0.29L0.36,0.12L0.56,0.77L0,0.38L-0.56,0.77L-0.36,0.12L-0.9,-0.29L-0.22,-0.31Z'"},
                      "fill": {"signal": "datum.value === '100% SOC' ? '#4A4A54' : datum.value === '85% SOC' ? '#5C6A8C' : '#A3A5C3'"}}}}}},
                "strokeDash": {"field": "soc", "type": "nominal", "scale": {"domain": ["100% SOC", "85% SOC", "70% SOC"], "range": [[1, 0], [6, 4], [1.5, 1.5]]}}
              }
            },
            {
              "data": {"values": [{}]},
              "mark": {"type": "text", "align": "left", "baseline": "middle", "fontSize": 10, "fontWeight": "bold", "color": "#7B86A6"},
              "encoding": {"x": {"datum": 4.7, "type": "quantitative"}, "y": {"datum": 737, "type": "quantitative"}, "text": {"value": "75%SOH"}}
            },
            {
              "data": {"values": [{}]},
              "mark": {"type": "rect", "fillOpacity": 0, "stroke": "#666", "strokeWidth": 1},
              "encoding": {"x": {"datum": 0, "type": "quantitative"}, "x2": {"datum": 200}, "y": {"datum": 0, "type": "quantitative"}, "y2": {"datum": 800}}
            }
          ]
        },
        {
          "data": {"name": "diag"},
          "mark": {"type": "line", "color": "#111", "strokeDash": [5, 4], "strokeWidth": 1.2},
          "encoding": {
            "x": {"field": "t", "type": "quantitative"},
            "y": {"field": "d", "type": "quantitative", "scale": {"domain": [0, 20], "nice": false}, "axis": {"orient": "right", "title": null, "values": [0, 5, 10, 15, 20], "offset": -9.3}}
          }
        }
      ],
      "resolve": {"scale": {"y": "independent"}}
    },
    {
      "width": 67, "height": 190,
      "data": {"name": "strip"},
      "transform": [{"filter": "datum.g === 'c'"}],
      "layer": [
        {"mark": {"type": "rule", "strokeDash": [3, 2], "color": "#555", "strokeWidth": 1},
         "encoding": {"y": {"field": "d", "type": "quantitative", "scale": {"domain": [0, 20], "nice": false}, "axis": {"title": "Penetration depth (mm)", "values": [0, 5, 10, 15, 20], "titlePadding": 9}}}},
        {"mark": {"type": "point", "filled": true, "opacity": 1, "size": 100},
         "encoding": {
           "x": {"datum": 1, "type": "quantitative", "scale": {"domain": [0, 2]}, "axis": null},
           "y": {"field": "d", "type": "quantitative"},
           "shape": {"field": "soc", "type": "nominal", "scale": {"domain": ["100% SOC", "85% SOC", "70% SOC"], "range": ["circle", "triangle-up", "M0,-1L0.235,-0.324L0.951,-0.309L0.38,0.124L0.588,0.809L0,0.4L-0.588,0.809L-0.38,0.124L-0.951,-0.309L-0.235,-0.324Z"]}, "legend": null},
           "color": {"field": "soc", "type": "nominal", "scale": {"domain": ["100% SOC", "85% SOC", "70% SOC"], "range": ["#4A4A54", "#5C6A8C", "#A3A5C3"]}, "legend": null}
         }}
      ]
    },
    {
      "width": 224, "height": 190,
      "title": {"text": "f", "anchor": "start", "frame": "group", "dx": -43, "dy": 7, "offset": 3, "fontSize": 18, "fontWeight": "bold", "color": "#000"},
      "data": {"name": "p2"},
      "transform": [{"filter": "datum.g === 'f'"}],
      "encoding": {
        "y": {"field": "p", "type": "quantitative", "scale": {"domain": [-0.1, 1.1], "nice": false}, "axis": {"title": "P2", "values": [0, 0.2, 0.4, 0.6, 0.8, 1], "labelExpr": "format(datum.value, '.1f')", "titlePadding": 11, "labelOverlap": false}}
      },
      "layer": [
        {"transform": [{"filter": "isValid(datum.lo)"}],
         "mark": {"type": "area", "orient": "horizontal", "opacity": 1},
         "encoding": {
           "x": {"field": "lo", "type": "quantitative", "scale": {"domain": [0, 20], "nice": false}, "axis": {"title": "Penetration depth (mm)", "values": [0, 5, 10, 15, 20], "titlePadding": 4}},
           "x2": {"field": "hi"},
           "detail": {"field": "soc", "type": "nominal"},
           "fill": {"datum": "95% CI", "type": "nominal", "scale": {"domain": ["95% CI"], "range": ["#DAEBD3"]},
             "legend": {"title": null, "orient": "none", "legendX": 22, "legendY": 43, "padding": 0, "symbolType": "M-3,-0.8H1V0.8H-3Z", "symbolSize": 100, "symbolStrokeWidth": 0, "labelOffset": 5, "labelFontSize": 9.5}}
         }},
        {"mark": {"type": "line", "strokeWidth": 1.3},
         "encoding": {
           "x": {"field": "x", "type": "quantitative"},
           "color": {"field": "soc", "type": "nominal", "scale": {"domain": ["100% SOC", "85% SOC", "70% SOC"], "range": ["#4A4A54", "#5C6A8C", "#A3A5C3"]}, "legend": null},
           "strokeDash": {"field": "soc", "type": "nominal", "scale": {"domain": ["100% SOC", "85% SOC", "70% SOC"], "range": [[1, 0], [6, 4], [1.5, 2]]}, "legend": null}
         }}
      ]
    }
  ],
  "columns": 3,
  "spacing": {"row": 50, "column": 65},
  "bounds": "flush",
  "resolve": {"scale": {"color": "independent", "strokeDash": "independent", "shape": "independent", "fill": "independent"}}
}
